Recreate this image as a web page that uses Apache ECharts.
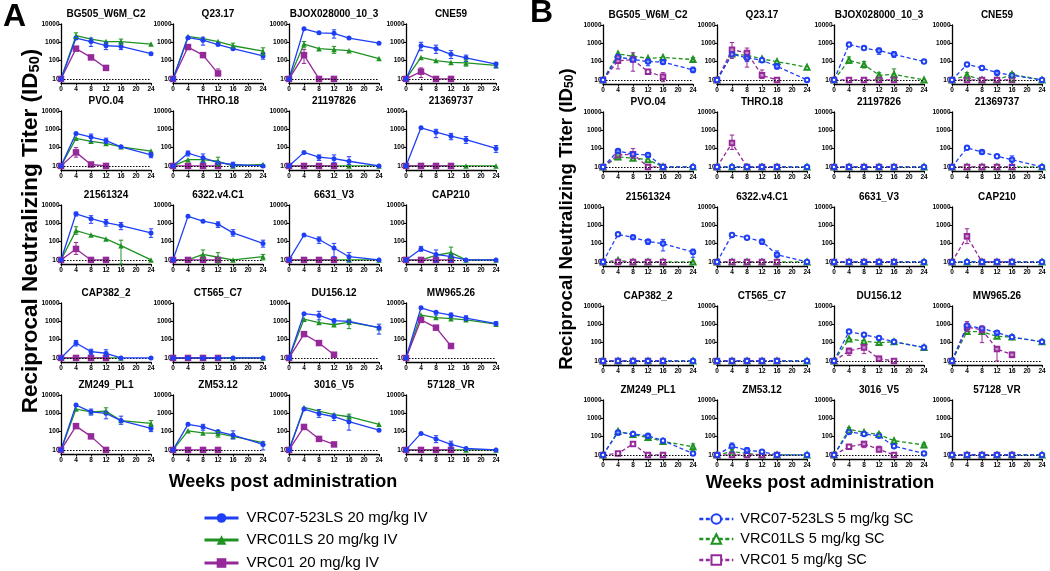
<!DOCTYPE html>
<html><head><meta charset="utf-8">
<script src="https://cdn.jsdelivr.net/npm/echarts@6/dist/echarts.min.js"></script>
<style>html,body{margin:0;padding:0;background:#fff}#c{width:1050px;height:571px}</style>
</head><body><div id="c"></div><script>
// ---------- data ----------
const weeks = [0, 4, 8, 12, 16, 24];
const xTicks = [0, 4, 8, 12, 16, 20, 24];
const yTicks = [10, 100, 1000, 10000];
const isolates = ['BG505_W6M_C2','Q23.17','BJOX028000_10_3','CNE59',
  'PVO.04','THRO.18','21197826','21369737',
  '21561324','6322.v4.C1','6631_V3','CAP210',
  'CAP382_2','CT565_C7','DU156.12','MW965.26',
  'ZM249_PL1','ZM53.12','3016_V5','57128_VR'];
const namesA = ['VRC07-523LS 20 mg/kg IV','VRC01LS 20 mg/kg IV','VRC01 20 mg/kg IV'];
const namesB = ['VRC07-523LS 5 mg/kg SC','VRC01LS 5 mg/kg SC','VRC01 5 mg/kg SC'];

// Panel A (IV, 20 mg/kg)
const vrc07IV = [
  [10,1700,1100,650,600,240],[10,1800,1300,750,450,180],[10,5500,3300,3100,1700,900],[10,650,450,220,140,65],
  [10,600,380,240,110,40],[10,50,28,15,12,10],[10,55,30,25,18,10],[10,1200,700,420,270,90],
  [10,3300,1800,1100,750,300],[10,2400,1300,900,300,80],[10,230,130,45,15,10],[10,40,20,15,10,10],
  [10,65,22,18,10,10],[10,10,10,10,10,10],[10,2600,2100,1100,1000,450],[10,5500,3100,2200,1500,750],
  [10,2800,1200,1000,400,150],[10,250,180,100,65,20],[10,1700,950,650,350,120],[10,80,40,20,12,10]];
const vrc01lsIV = [
  [10,2300,1500,1100,1100,800],[10,2100,1600,1100,650,330],[10,800,450,400,350,130],[10,150,100,80,75,55],
  [10,320,220,170,110,65],[10,22,22,18,10,12],[10,10,10,10,10,10],[10,10,10,10,10,10],
  [10,400,230,140,60,10],[10,10,20,14,10,15],[10,10,10,10,10,10],[10,10,18,25,10,10],
  [10,10,10,10,10],[10,10,10,10,10,10],[10,1300,850,650,900,450],[10,2200,1600,1400,1200,700],
  [10,1700,1200,1300,400,280],[10,110,85,80,55,25],[10,2100,1300,850,650,250],[10,10,10,10,10,10]];
const vrc01IV = [
  [10,450,150,40],[10,550,200,20],[10,200,10,10],[10,25,10,10],
  [10,55,12,10],[10,10,10,10],[10,10,10,10],[10,10,10,10],
  [10,40,10,10],[10,10,10,10],[10,10,10,10],[10,10,10,10],
  [10,10,10,10],[10,10,10,10],[10,200,65,15],[10,1200,450,45],
  [10,200,55,10],[10,10,10,10],[10,180,40,20],[10,10,10,10]];

// Panel B (SC, 5 mg/kg)
const vrc07SC = [
  [10,180,130,100,95,35],[10,250,160,120,55,10],[10,850,550,400,250,100],[10,70,45,25,18,10],
  [10,75,50,45,10,10],[10,10,10,10,10,10],[10,10,10,10,10,10],[10,110,65,38,25,10],
  [10,320,220,130,100,35],[10,300,210,130,25,10],[10,10,10,10,10,10],[10,10,10,10,10,10],
  [10,10,10,10,10,10],[10,10,10,10,10,10],[10,400,270,180,110,55],[10,850,600,350,200,110],
  [10,170,140,110,60,12],[10,30,18,15,10,10],[10,180,140,110,30,12],[10,10,10,10,10,10]];
const vrc01lsSC = [
  [10,260,200,150,170,130],[10,260,220,140,100,50],[10,120,70,18,20,10],[10,18,10,10,20,10],
  [10,35,30,25,10,10],[10,10,10,10,10,10],[10,10,10,10,10,10],[10,10,10,10,10,10],
  [10,12,10,10,10,10],[10,10,10,10,10,10],[10,10,10,10,10,10],[10,10,10,10,10,10],
  [10,10,10,10,10,10],[10,10,10,10,10,10],[10,160,120,100,110,55],[10,400,400,220,200,110],
  [10,190,130,90,55,28],[10,15,12,10,10,10],[10,250,170,130,60,35],[10,10,10,10,10,10]];
const vrc01SC = [
  [10,110,130,28,15],[10,450,300,18,10],[10,10,10,10,10],[10,10,10,10,10],
  [10,45,50,10,10],[10,200,10,10,10],[10,10,10,10,10],[10,10,10,10,10],
  [10,10,10,10,10],[10,10,10,10,10],[10,10,10,10,10],[10,250,10,10,10],
  [10,10,10,10,10],[10,10,10,10,10],[10,35,55,13,10],[10,700,500,45,22],
  [10,12,40,10,10],[10,10,10,10,10],[10,28,40,20,10],[10,10,10,10,10]];

// Error bars: [isolate index, series (0=VRC07-523LS, 1=VRC01LS, 2=VRC01), week, low, high]
const errA = [
  [0,1,4,1600,3300],[0,0,8,600,1700],[0,0,12,400,1000],[0,1,16,800,1500],[0,0,16,400,900],
  [1,0,8,700,1900],[1,1,24,200,500],[1,0,24,120,250],[1,2,12,15,35],[1,1,16,500,900],
  [2,0,12,1700,4800],[2,1,4,500,1100],[2,1,12,250,600],[2,2,4,70,400],
  [3,0,4,350,1000],[3,0,8,250,700],[3,0,12,130,350],[3,0,16,90,200],[3,1,16,50,110],[3,2,4,12,40],[3,0,24,40,80],
  [4,0,8,220,550],[4,0,12,170,330],[4,2,4,30,100],[4,0,24,28,55],
  [5,0,4,35,65],[5,0,8,15,45],[5,1,12,10,30],[5,0,16,8,16],
  [6,0,8,20,40],[6,0,12,15,40],[6,0,16,12,32],
  [7,0,8,350,1000],[7,0,12,270,600],[7,0,16,170,400],[7,0,24,55,130],
  [8,0,4,2500,4000],[8,0,8,1000,2600],[8,0,12,700,1600],[8,0,16,450,1100],[8,0,24,170,500],[8,1,4,250,650],[8,1,16,6,120],[8,2,4,20,90],
  [9,0,12,600,1200],[9,0,16,200,450],[9,0,24,50,120],[9,1,8,12,35],[9,1,12,6,25],[9,1,24,10,20],
  [10,0,8,80,180],[10,0,12,15,80],[10,0,16,8,25],
  [11,0,4,30,55],[11,0,8,8,35],[11,1,12,12,50],[11,0,12,8,20],
  [12,0,4,45,90],[12,0,8,15,30],[12,0,12,12,28],
  [14,0,8,1200,3500],[14,0,12,800,1300],[14,1,16,400,1300],[14,0,24,200,700],
  [15,0,8,2200,3500],[15,0,12,1600,2800],[15,0,16,1100,2000],[15,0,24,600,950],
  [16,0,8,800,1700],[16,0,12,500,1300],[16,1,12,1000,2000],[16,0,16,250,700],[16,1,24,200,400],[16,0,24,100,200],
  [17,0,8,120,250],[17,0,16,40,110],[17,1,12,50,100],[17,0,24,10,28],
  [18,0,8,600,1600],[18,0,12,400,900],[18,0,16,120,700],[18,1,16,500,900],
  [19,0,8,25,60],[19,0,12,12,30]];
const errB = [
  [0,2,4,40,200],[0,2,8,30,300],[0,0,12,60,130],[0,0,24,25,50],[0,1,24,90,170],[0,2,16,8,25],[0,0,16,75,120],
  [1,2,4,150,1100],[1,2,8,50,550],[1,0,16,40,80],[1,2,12,12,35],[1,0,8,100,250],
  [2,0,12,250,550],[2,0,16,170,350],[2,1,4,80,180],[2,1,8,45,100],[2,1,12,10,25],[2,1,16,10,40],
  [3,1,4,10,25],[3,0,12,18,30],[3,1,16,8,25],
  [4,2,8,30,100],[4,0,4,60,85],[4,0,12,35,55],[4,1,4,25,45],
  [5,2,4,90,550],
  [7,0,8,50,75],[7,0,16,12,40],
  [8,0,8,180,280],[8,0,12,90,160],[8,0,16,40,170],[8,0,24,18,50],
  [9,0,12,90,150],[9,0,16,18,40],
  [11,2,4,100,650],
  [14,2,4,20,50],[14,2,8,25,80],[14,2,12,10,18],
  [15,2,4,400,1400],[15,2,8,100,800],[15,2,12,10,60],[15,2,16,15,30],[15,0,12,250,450],
  [16,0,4,120,210],[16,0,12,80,130],[16,1,24,18,40],
  [17,0,4,15,45],[17,1,4,10,20],[17,0,8,12,25],
  [18,1,4,170,320],[18,1,12,100,160],[18,2,8,25,55],[18,2,12,15,30],[18,1,24,25,45]];

// ---------- layout / style ----------
const FONT = 'Arial, "Liberation Sans", sans-serif';
const BLUE = '#1e3ff5', GREEN = '#1f9222', PURPLE = '#95299a';
const COLORS = [BLUE, GREEN, PURPLE];
const colA = [61, 173, 289, 406], rowA = [24, 111, 205, 303, 395];
const colB = [603, 717, 834, 952], rowB = [25, 112, 207, 306, 400];
const PW = 90, PH = 59;

const grids = [], xAxes = [], yAxes = [], series = [], graphics = [];

function errorSeries(gi, color, rows) {
  return {
    type: 'custom', xAxisIndex: gi, yAxisIndex: gi, z: 6, silent: true,
    data: rows.map(e => [e[2], e[3], e[4]]),
    renderItem: (params, api) => {
      const lo = api.coord([api.value(0), api.value(1)]);
      const hi = api.coord([api.value(0), api.value(2)]);
      const w = 2.2;
      const st = { stroke: color, lineWidth: 1 };
      return { type: 'group', children: [
        { type: 'line', shape: { x1: lo[0], y1: lo[1], x2: hi[0], y2: hi[1] }, style: st },
        { type: 'line', shape: { x1: lo[0] - w, y1: lo[1], x2: lo[0] + w, y2: lo[1] }, style: st },
        { type: 'line', shape: { x1: hi[0] - w, y1: hi[1], x2: hi[0] + w, y2: hi[1] }, style: st }
      ] };
    }
  };
}

function addPanel(cols, rows, d07, dLS, d01, errs, names, open) {
  isolates.forEach((iso, i) => {
    const r = Math.floor(i / 4), c = i % 4;
    const gi = grids.length;
    grids.push({ left: cols[c], top: rows[r], width: PW, height: PH });
    xAxes.push({
      gridIndex: gi, type: 'value', min: xTicks[0], max: xTicks[xTicks.length - 1], interval: 4,
      axisLine: { lineStyle: { color: '#000', width: 1.3 } },
      axisTick: { show: true, length: 2.5, lineStyle: { color: '#000', width: 1 } },
      axisLabel: { fontSize: 6.5, fontWeight: 'bold', color: '#000', margin: 2.5, fontFamily: FONT },
      splitLine: { show: false }
    });
    yAxes.push({
      gridIndex: gi, type: 'log', logBase: 10, min: 6, max: 10000,
      axisLine: { show: true, lineStyle: { color: '#000', width: 1.3 } },
      axisTick: { show: true, length: 2.5, lineStyle: { color: '#000', width: 1 } },
      axisLabel: {
        fontSize: 6.5, fontWeight: 'bold', color: '#000', margin: 1.5, fontFamily: FONT,
        showMinLabel: false,
        formatter: v => { const k = Math.round(v); return yTicks.includes(k) ? String(k) : ''; }
      },
      splitLine: { show: false }
    });
    graphics.push({
      type: 'text', x: cols[c] + PW / 2, y: rows[r] - 10, silent: true,
      style: { text: iso, fill: '#000', font: 'bold 10px ' + FONT, align: 'center', verticalAlign: 'middle' }
    });
    const mk = arr => arr.map((v, k) => [weeks[k], v]);
    const lt = open ? { type: [4, 2.5] } : {};
    series.push({
      name: names[1], type: 'line', xAxisIndex: gi, yAxisIndex: gi, data: mk(dLS[i]),
      symbol: open ? 'emptyTriangle' : 'triangle', symbolSize: open ? 5 : 5.5,
      lineStyle: Object.assign({ color: GREEN, width: 1.3 }, lt),
      itemStyle: { color: GREEN, borderWidth: 1 }, z: 3,
      markLine: {
        silent: true, symbol: 'none', label: { show: false }, animation: false,
        lineStyle: { color: '#000', width: 1, type: [1.5, 1.5] }, data: [{ yAxis: 10 }]
      }
    });
    series.push({
      name: names[2], type: 'line', xAxisIndex: gi, yAxisIndex: gi, data: mk(d01[i]),
      symbol: open ? 'emptyRect' : 'rect', symbolSize: open ? 4.5 : 6.5,
      lineStyle: Object.assign({ color: PURPLE, width: 1.3 }, lt),
      itemStyle: { color: PURPLE, borderWidth: 1 }, z: 4
    });
    series.push({
      name: names[0], type: 'line', xAxisIndex: gi, yAxisIndex: gi, data: mk(d07[i]),
      symbol: open ? 'emptyCircle' : 'circle', symbolSize: open ? 4.5 : 5,
      lineStyle: Object.assign({ color: BLUE, width: 1.3 }, lt),
      itemStyle: { color: BLUE, borderWidth: 1 }, z: 5
    });
    [0, 1, 2].forEach(s => {
      const rowsE = errs.filter(e => e[0] === i && e[1] === s);
      if (rowsE.length) series.push(errorSeries(gi, COLORS[s], rowsE));
    });
  });
}
addPanel(colA, rowA, vrc07IV, vrc01lsIV, vrc01IV, errA, namesA, false);
addPanel(colB, rowB, vrc07SC, vrc01lsSC, vrc01SC, errB, namesB, true);

// panel letters, axis titles
graphics.push({ type: 'text', x: 3, y: 1, style: { text: 'A', fill: '#000', font: 'bold 32px ' + FONT } });
graphics.push({ type: 'text', x: 530, y: -3, style: { text: 'B', fill: '#000', font: 'bold 32px ' + FONT } });
function yTitleRich(fs) {
  return {
    a: { fontSize: fs, fontWeight: 'bold', fontFamily: FONT, fill: '#000', color: '#000', lineHeight: fs * 1.4, verticalAlign: 'bottom' },
    s: { fontSize: fs * 0.65, fontWeight: 'bold', fontFamily: FONT, fill: '#000', color: '#000', lineHeight: fs * 1.1, verticalAlign: 'bottom' }
  };
}
[[27, 231, 22.5], [563, 219, 18.6]].forEach(([x, y, fs]) => {
  graphics.push({ type: 'text', x: x, y: y, rotation: Math.PI / 2,
    style: { text: '{a|Reciprocal Neutralizing Titer (ID}{s|50}{a|)}', rich: yTitleRich(fs), align: 'center', verticalAlign: 'middle' } });
});
[[283, 482], [820, 483]].forEach(([x, y]) => {
  graphics.push({ type: 'text', x: x, y: y,
    style: { text: 'Weeks post administration', fill: '#000', font: 'bold 18px ' + FONT, align: 'center', verticalAlign: 'middle' } });
});

// legends: one component per entry so nothing wraps
const legendTopsA = [518, 540, 563], legendTopsB = [519, 539, 560];
const legends = [];
namesA.forEach((n, k) => legends.push({
  data: [n], left: 198, top: legendTopsA[k] - 12.5, itemWidth: 34, itemHeight: 12, selectedMode: false,
  textStyle: { fontSize: 15, fontFamily: FONT, color: '#000', padding: [0, 0, 0, 3] }, lineStyle: { width: 3 }
}));
namesB.forEach((n, k) => legends.push({
  data: [n], left: 693, top: legendTopsB[k] - 12.5, itemWidth: 34, itemHeight: 12, selectedMode: false,
  textStyle: { fontSize: 14.5, fontFamily: FONT, color: '#000', padding: [0, 0, 0, 2] }, lineStyle: { width: 2.6 }
}));

const chart = echarts.init(document.getElementById('c'), null, { renderer: 'canvas' });
chart.setOption({
  animation: false,
  backgroundColor: '#fff',
  grid: grids, xAxis: xAxes, yAxis: yAxes, series: series,
  legend: legends,
  graphic: graphics
});
</script></body></html>
